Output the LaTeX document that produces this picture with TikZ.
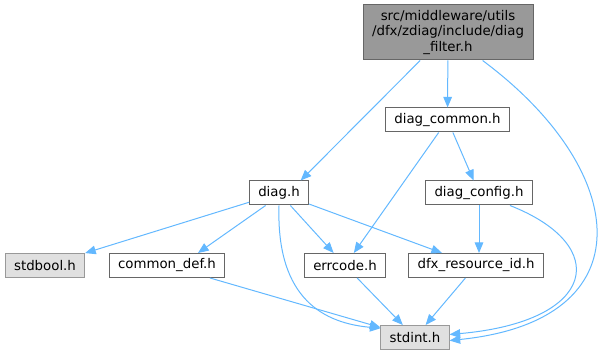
\documentclass[tikz,border=0pt]{standalone}
\usepackage{fontspec}
\setmainfont{DejaVu Sans}
\usetikzlibrary{arrows.meta,calc}
\definecolor{edgeblue}{HTML}{63B8FF}
\definecolor{rimgray}{HTML}{666666}
\definecolor{curfill}{HTML}{999999}
\definecolor{sysfill}{HTML}{E0E0E0}
\definecolor{sysrim}{HTML}{999999}

\begin{document}
\begin{tikzpicture}[x=0.75pt, y=0.75pt,
  file/.style={draw=rimgray, fill=white, font=\fontsize{10}{11.5}\selectfont, inner xsep=6.5pt, inner ysep=0pt, minimum height=18pt, line width=0.75pt},
  sys/.style={file, draw=sysrim, fill=sysfill},
  cur/.style={file, fill=curfill, align=center, minimum width=127.5pt, minimum height=41.25pt},
  dep/.style={-{Triangle[length=8pt,width=6.5pt]}, edgeblue, line width=0.75pt}]
\useasboundingbox (0,0) rectangle (605,-359);
\node[cur] (top) at (448,-32.5) {src/middleware/utils\\/dfx/zdiag/include/diag\\\_filter.h};
\node[file] (dcom) at (447.5,-120) {diag\_common.h};
\node[file] (diag) at (279,-193) {diag.h};
\node[file] (dconf) at (479,-193) {diag\_config.h};
\node[sys] (stdbool) at (45,-265.5) {stdbool.h};
\node[file] (cdef) at (167,-265.5) {common\_def.h};
\node[file] (errc) at (345,-265.5) {errcode.h};
\node[file] (dfxid) at (476,-265.5) {dfx\_resource\_id.h};
\node[sys] (stdint) at (415,-337.5) {stdint.h};
% edges out of the filter header
\draw[dep] (top) -- (diag.30);
\draw[dep] (top) -- (dcom);
\draw[dep] (top.-39) .. controls +(148,-110) and +(198,20) .. (stdint.-5);
\draw[dep] (dcom) -- (errc);
\draw[dep] (dcom) -- (dconf);
% diag.h
\draw[dep] (diag) -- (stdbool);
\draw[dep] (diag.-137) -- (cdef.22.6);
\draw[dep] (diag.south) .. controls +(-3,-95) and +(-55,5) .. (stdint.165);
\draw[dep] (diag) -- (errc);
\draw[dep] (diag) -- (dfxid);
% diag_config.h
\draw[dep] (dconf.south) -- (dconf.south |- dfxid.north);
\draw[dep] (dconf.-22.5) .. controls +(102,-40) and +(148,13) .. (stdint.5);
% into stdint.h
\draw[dep] (cdef) -- (stdint);
\draw[dep] (errc) -- (stdint);
\draw[dep] (dfxid) -- (stdint);
\end{tikzpicture}
\end{document}
